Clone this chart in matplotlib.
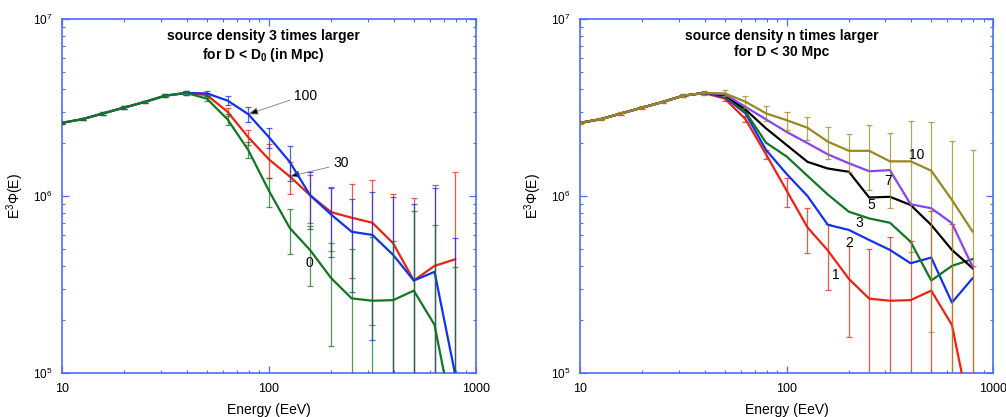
import matplotlib
matplotlib.use('Agg')
import matplotlib.pyplot as plt
import numpy as np

plt.rcParams['font.family'] = ['Liberation Sans', 'DejaVu Sans']
plt.rcParams['mathtext.fontset'] = 'custom'
plt.rcParams['mathtext.rm'] = 'Liberation Sans'
plt.rcParams['mathtext.it'] = 'Liberation Sans:italic'
plt.rcParams['mathtext.bf'] = 'Liberation Sans:bold'

# energy bins (EeV)
energy = [10, 12.6, 15.8, 20, 25.1, 31.6, 39.8, 50.1, 63.1, 79.4,
          100, 126, 158, 200, 251, 316, 398, 501, 631, 794]

# shared low energy part (units of 1e6)
low = [2.59, 2.72, 2.93, 3.16, 3.40, 3.69, 3.82]
low_err = [0.03, 0.04, 0.05, 0.05, 0.06, 0.08, 0.10]

# left panel: D0 = 100, 30, 0
left_d100 = low + [3.80, 3.46, 2.90, 2.15, 1.56, 1.01, 0.785, 0.628, 0.603, 0.465, 0.333, 0.373, 0.098]
left_d30 = low + [3.72, 2.99, 2.15, 1.61, 1.29, 1.01, 0.81, 0.754, 0.706, 0.541, 0.333, 0.403, 0.439]
left_d0 = low + [3.55, 2.71, 1.82, 1.07, 0.66, 0.495, 0.343, 0.264, 0.256, 0.258, 0.292, 0.187, 0.048]
left_d100_err = low_err + [0.14, 0.20, 0.27, 0.28, 0.35, 0.36, 0.33, 0.34, 0.45, 0.52, 0.57, 0.73, 0.48]
left_d30_err = low_err + [0.12, 0.16, 0.21, 0.35, 0.26, 0.31, 0.32, 0.41, 0.52, 0.48, 0.64, 0.75, 0.93]
left_d0_err = low_err + [0.12, 0.20, 0.19, 0.20, 0.19, 0.185, 0.20, 0.24, 0.33, 0.30, 0.53, 0.50, 0.35]

# right panel: n = 1, 2, 3, 5, 7, 10
right_n1 = low + [3.55, 2.72, 1.72, 1.07, 0.665, 0.493, 0.34, 0.263, 0.256, 0.258, 0.292, 0.187, 0.05]
right_n2 = low + [3.63, 2.93, 1.82, 1.33, 1.00, 0.688, 0.643, 0.564, 0.496, 0.417, 0.449, 0.25, 0.343]
right_n3 = low + [3.68, 2.99, 2.00, 1.67, 1.30, 1.02, 0.815, 0.747, 0.706, 0.552, 0.333, 0.403, 0.44]
right_n5 = low + [3.72, 3.08, 2.41, 1.94, 1.56, 1.43, 1.37, 0.98, 0.99, 0.89, 0.686, 0.496, 0.391]
right_n7 = low + [3.76, 3.19, 2.71, 2.30, 1.99, 1.72, 1.53, 1.38, 1.40, 0.898, 0.853, 0.702, 0.399]
right_n10 = low + [3.80, 3.41, 2.93, 2.68, 2.43, 2.03, 1.80, 1.80, 1.57, 1.57, 1.39, 0.95, 0.63]
right_n1_err = low_err + [0.12, 0.10, 0.10, 0.20, 0.19, 0.20, 0.18, 0.24, 0.33, 0.30, 0.53, 0.51, 0.35]
right_n10_err = low_err + [0.15, 0.26, 0.28, 0.31, 0.37, 0.42, 0.44, 0.72, 0.71, 1.09, 1.22, 1.10, 1.19]

RED = '#ee2211'
BLUE = '#1133ee'
GREEN = '#117722'
BLACK = '#000000'
PURPLE = '#8844ee'
OLIVE = '#998822'
FRAME = '#4d6bff'


def style_axes(ax, title):
    ax.set_xscale('log')
    ax.set_yscale('log')
    ax.set_xlim(10, 1000)
    ax.set_ylim(1e5, 1e7)
    for s in ax.spines.values():
        s.set_color(FRAME)
        s.set_linewidth(1.2)
    ax.tick_params(which='both', direction='in', top=True, right=True,
                   color=FRAME, labelsize=9, labelcolor='black')
    ax.tick_params(which='major', length=5, width=0.9)
    ax.tick_params(which='minor', length=2.5, width=0.8)
    ax.tick_params(axis='x', which='major', pad=7)
    ax.tick_params(axis='y', which='major', pad=7, labelsize=8.5)
    ax.set_xticks([10, 100, 1000])
    ax.set_xticklabels(['10', '100', '1000'])
    ax.set_xlabel('Energy (EeV)', fontsize=10, labelpad=6)
    ax.set_ylabel(r'E$^3$Φ(E)', fontsize=10, labelpad=5)
    ax.text(0.487, 0.972, title, transform=ax.transAxes, ha='center', va='top',
            fontsize=10, fontweight='bold', linespacing=1.2)


def draw(ax, y, err, color, z, ealpha=0.75):
    y = np.array(y) * 1e6
    if err is not None:
        ax.errorbar(energy, y, yerr=np.array(err) * 1e6, fmt='none', ecolor=color,
                    alpha=ealpha, elinewidth=0.9, capsize=2.2, capthick=0.9, zorder=z - 0.5)
    ax.plot(energy, y, color=color, lw=1.6, zorder=z)


fig = plt.figure(figsize=(10.06, 4.17), dpi=100)
ax1 = fig.add_axes([0.0616, 0.1055, 0.4115, 0.8489])
ax2 = fig.add_axes([0.5768, 0.1055, 0.4105, 0.8489])

# left panel
draw(ax1, left_d30, left_d30_err, RED, 3)
draw(ax1, left_d100, left_d100_err, BLUE, 4)
draw(ax1, left_d0, left_d0_err, GREEN, 5)
style_axes(ax1, 'source density 3 times larger\n' + r'for D < D$_\mathbf{0}$ (in Mpc)')

arrow = dict(arrowstyle='-|>,head_length=0.6,head_width=0.22', fc='black', ec='gray',
             lw=0.6, shrinkA=1, shrinkB=0)
ax1.annotate('100', xy=(energy[9], left_d100[9] * 1e6), xytext=(150, 3.67e6),
             fontsize=10, ha='center', va='center',
             arrowprops=dict(arrow, relpos=(0.0, 0.3)))
ax1.annotate('30', xy=(energy[11], left_d30[11] * 1e6), xytext=(223, 1.53e6),
             fontsize=10, ha='center', va='center',
             arrowprops=dict(arrow, relpos=(0.0, 0.3)))
ax1.text(156, 4.17e5, '0', fontsize=10, ha='center', va='center')

# right panel
draw(ax2, right_n1, right_n1_err, RED, 3)
draw(ax2, right_n2, None, BLUE, 4)
draw(ax2, right_n3, None, GREEN, 5)
draw(ax2, right_n5, None, BLACK, 6)
draw(ax2, right_n7, None, PURPLE, 7)
draw(ax2, right_n10, right_n10_err, OLIVE, 8)
style_axes(ax2, 'source density n times larger\nfor D < 30 Mpc')

labels = [('10', 426, 1.71e6), ('7', 309, 1.22e6), ('5', 256, 8.9e5),
          ('3', 224, 7.03e5), ('2', 200, 5.45e5), ('1', 173, 3.58e5)]
for txt, xx, yy in labels:
    ax2.text(xx, yy, txt, fontsize=10, ha='center', va='center', zorder=10)

fig.savefig('out.png', dpi=100)
